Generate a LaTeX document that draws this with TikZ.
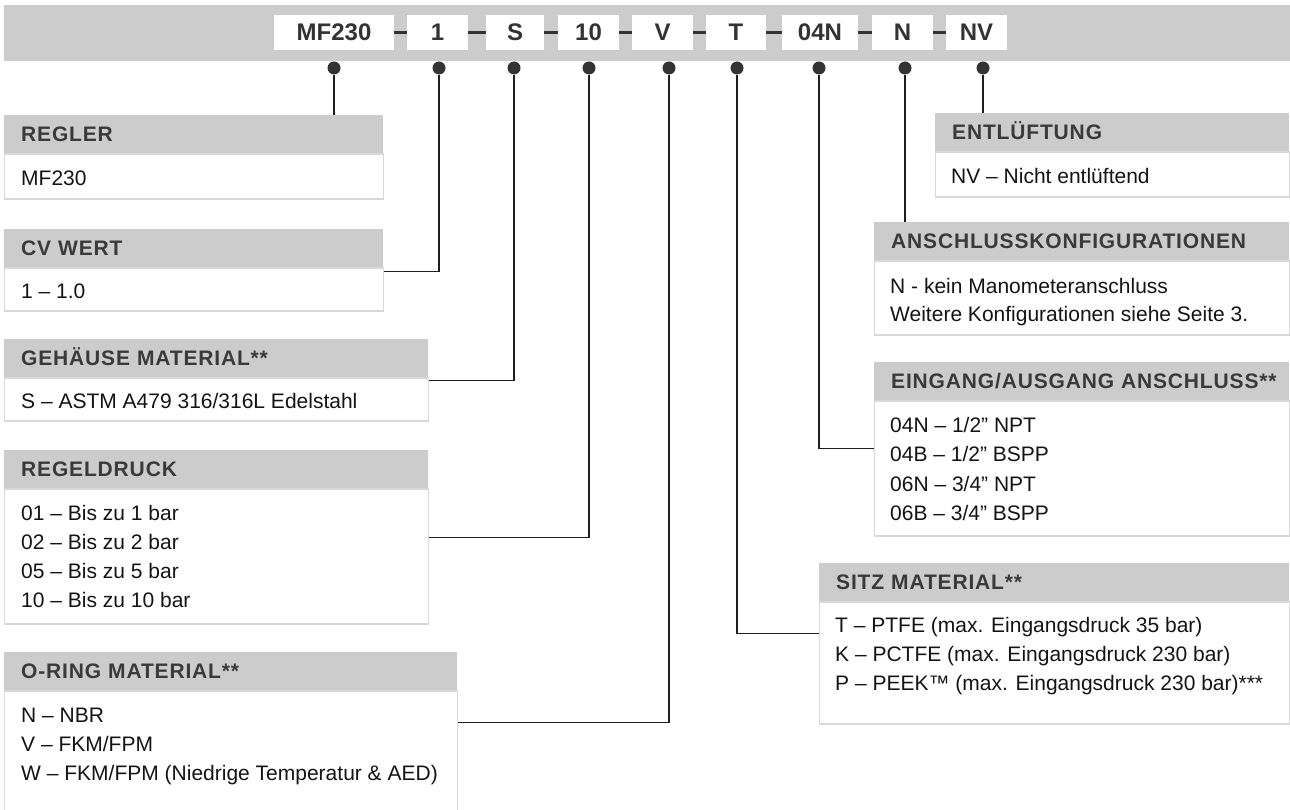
\documentclass[tikz,border=0pt]{standalone}
\usepackage{fontspec}
\setmainfont{Liberation Sans}
\newfontfamily\hdfont[LetterSpace=4]{Liberation Sans}
\usepackage{xcolor}
\usepackage{tikz}
\usetikzlibrary{positioning}
\definecolor{figbar}{RGB}{204,204,204}
\definecolor{fighead}{RGB}{204,204,204}
\definecolor{figheadtext}{RGB}{58,58,58}
\definecolor{figcode}{RGB}{51,51,51}
\definecolor{figrim}{RGB}{216,216,216}
\definecolor{figtext}{RGB}{20,20,20}
\definecolor{figwire}{RGB}{30,30,30}
\definecolor{figknob}{RGB}{51,51,51}
\tikzset{
  codebox/.style ={fill=white, minimum height=35pt, inner sep=0pt, text height=17pt, text depth=0pt, text=figcode, font=\fontsize{24}{24}\selectfont\bfseries},
  joiner/.style  ={draw=figknob, line width=2.5pt},
  knob/.style    ={circle, fill=figknob, inner sep=0pt, minimum size=13pt},
  lead/.style    ={draw=figwire, line width=1.5pt},
  hdbox/.style   ={fill=fighead, anchor=north west, inner xsep=0pt, inner ysep=0pt, text width=#1, align=left, minimum height=38pt, text height=15pt, text depth=0pt, text=figheadtext, font=\hdfont\fontsize{21}{21}\selectfont\bfseries, execute at begin node={\hspace*{17pt}}},
  bdbox/.style   ={draw=figrim, line width=1.2pt, fill=white, inner sep=0pt},
  bdtxt/.style   ={anchor=base west, inner sep=0pt, text=figtext, font=\fontsize{21}{21}\selectfont},
}

\begin{document}
\begin{tikzpicture}[x=1pt,y=-1pt]
  \useasboundingbox (0,0) rectangle (1290,810);
  \clip (0,0) rectangle (1290,810);
  \fill[figbar] (4,5) rectangle (1290,61);
  % order code
  \node[codebox,minimum width=120pt] (cmf) at (334,32.5) {MF230};
  \node[codebox,minimum width=61pt] (c1) at (437.5,32.5) {1};
  \node[codebox,minimum width=58pt] (cs) at (515,32.5) {S};
  \node[codebox,minimum width=61pt] (c10) at (588.5,32.5) {10};
  \node[codebox,minimum width=61pt] (cv) at (662.5,32.5) {V};
  \node[codebox,minimum width=60pt] (ct) at (736,32.5) {T};
  \node[codebox,minimum width=76pt] (c04) at (820,32.5) {04N};
  \node[codebox,minimum width=61pt] (cn) at (902.5,32.5) {N};
  \node[codebox,minimum width=61pt] (cnv) at (976.5,32.5) {NV};
  \draw[joiner] (cmf) -- (c1);
  \draw[joiner] (c1) -- (cs);
  \draw[joiner] (cs) -- (c10);
  \draw[joiner] (c10) -- (cv);
  \draw[joiner] (cv) -- (ct);
  \draw[joiner] (ct) -- (c04);
  \draw[joiner] (c04) -- (cn);
  \draw[joiner] (cn) -- (cnv);
  \node[knob] (kmf) at (334,68) {};
  \node[knob] (k1) at (439,68) {};
  \node[knob] (ks) at (514,68) {};
  \node[knob] (k10) at (589,68) {};
  \node[knob] (kv) at (669,68) {};
  \node[knob] (kt) at (737,68) {};
  \node[knob] (k04) at (819,68) {};
  \node[knob] (kn) at (905,68) {};
  \node[knob] (knv) at (983,68) {};
  % left column
  \node[hdbox=379pt] (hreg) at (4,115) {REGLER};
  \node[bdbox,minimum width=379pt,minimum height=45pt,below right=0pt and 0pt of hreg.south west] (breg) {};
  \node[bdtxt] (treg) at ([xshift=17pt,yshift=-32pt]breg.north west) {MF230};
  \node[hdbox=379pt] (hcv) at (4,229) {CV WERT};
  \node[bdbox,minimum width=379pt,minimum height=43pt,below right=0pt and 0pt of hcv.south west] (bcv) {};
  \node[bdtxt] (tcv) at ([xshift=17pt,yshift=-31pt]bcv.north west) {1 – 1.0};
  \node[hdbox=424pt] (hgh) at (4,339) {GEHÄUSE MATERIAL**};
  \node[bdbox,minimum width=424pt,minimum height=43pt,below right=0pt and 0pt of hgh.south west] (bgh) {};
  \node[bdtxt] (tgh) at ([xshift=17pt,yshift=-31pt]bgh.north west) {S – ASTM A479 316/316L Edelstahl};
  \node[hdbox=424pt] (hrd) at (4,450) {REGELDRUCK};
  \node[bdbox,minimum width=424pt,minimum height=135pt,below right=0pt and 0pt of hrd.south west] (brd) {};
  \foreach \t [count=\i from 0] in {{01 – Bis zu 1 bar},{02 – Bis zu 2 bar},{05 – Bis zu 5 bar},{10 – Bis zu 10 bar}}
    \node[bdtxt] (trd\i) at ([xshift=17pt,yshift={-32pt-29pt*\i}]brd.north west) {\t};
  \node[hdbox=453pt] (hor) at (4,652) {O-RING MATERIAL**};
  \node[bdbox,minimum width=453pt,minimum height=140pt,below right=0pt and 0pt of hor.south west] (bor) {};
  \foreach \t [count=\i from 0] in {{N – NBR},{V – FKM/FPM},{W – FKM/FPM (Niedrige Temperatur \& AED)}}
    \node[bdtxt] (tor\i) at ([xshift=17pt,yshift={-32pt-29pt*\i}]bor.north west) {\t};
  % right column
  \node[hdbox=354pt] (hent) at (935,113) {ENTLÜFTUNG};
  \node[bdbox,minimum width=354pt,minimum height=45pt,below right=0pt and 0pt of hent.south west] (bent) {};
  \node[bdtxt] (tent) at ([xshift=16pt,yshift=-32pt]bent.north west) {NV – Nicht entlüftend};
  \node[hdbox=415pt] (hak) at (874,222) {ANSCHLUSSKONFIGURATIONEN};
  \node[bdbox,minimum width=415pt,minimum height=74pt,below right=0pt and 0pt of hak.south west] (bak) {};
  \foreach \t [count=\i from 0] in {{N - kein Manometeranschluss},{Weitere Konfigurationen siehe Seite 3.}}
    \node[bdtxt] (tak\i) at ([xshift=16pt,yshift={-33pt-28pt*\i}]bak.north west) {\t};
  \node[hdbox=415pt] (hea) at (874,362) {EINGANG/AUSGANG ANSCHLUSS**};
  \node[bdbox,minimum width=415pt,minimum height=135pt,below right=0pt and 0pt of hea.south west] (bea) {};
  \foreach \t [count=\i from 0] in {{04N – 1/2” NPT},{04B – 1/2” BSPP},{06N – 3/4” NPT},{06B – 3/4” BSPP}}
    \node[bdtxt] (tea\i) at ([xshift=16pt,yshift={-32pt-29.3pt*\i}]bea.north west) {\t};
  \node[hdbox=470pt] (hsz) at (819,563) {SITZ MATERIAL**};
  \node[bdbox,minimum width=470pt,minimum height=122pt,below right=0pt and 0pt of hsz.south west] (bsz) {};
  \foreach \t [count=\i from 0] in {{T – PTFE (max. Eingangsdruck 35 bar)},{K – PCTFE (max. Eingangsdruck 230 bar)},{P – PEEK™ (max. Eingangsdruck 230 bar)***}}
    \node[bdtxt] (tsz\i) at ([xshift=16pt,yshift={-31.5pt-29pt*\i}]bsz.north west) {\t};
  % leads
  \draw[lead] (kmf) -- (kmf |- hreg.north);
  \draw[lead] (k1) |- ([yshift=-4pt]bcv.north east);
  \draw[lead] (ks) |- ([yshift=-3pt]bgh.north east);
  \draw[lead] (k10) |- ([yshift=-49pt]brd.north east);
  \draw[lead] (kv) |- ([yshift=-32pt]bor.north east);
  \draw[lead] (kt) |- ([yshift=-32pt]bsz.north west);
  \draw[lead] (k04) |- ([yshift=-48pt]bea.north west);
  \draw[lead] (kn) -- (kn |- hak.north);
  \draw[lead] (knv) -- (knv |- hent.north);
\end{tikzpicture}
\end{document}
